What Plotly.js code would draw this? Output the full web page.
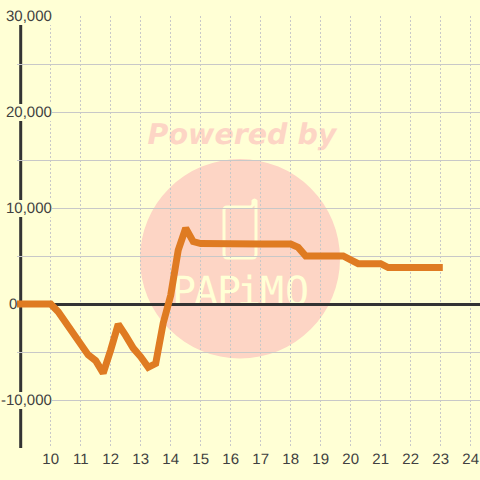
<!DOCTYPE html>
<html><head><meta charset="utf-8">
<script src="https://cdn.plot.ly/plotly-3.0.1.min.js"></script>
<style>html,body{margin:0;padding:0;background:#ffffd5}svg text{text-rendering:geometricPrecision}</style></head>
<body><div id="c" style="width:480px;height:480px"></div>
<script>
const hours = [8.877,9,9.5,10,10.25,10.5,10.75,11,11.25,11.5,11.75,12,12.25,12.5,12.75,13,13.25,13.5,13.75,14,14.25,14.5,14.75,15,15.5,16,17,18,18.25,18.5,19,19.5,19.75,20,20.25,20.5,21,21.25,21.5,22,22.5,23.07];
const values = [0,0,0,0,-800,-1900,-3100,-4200,-5300,-5900,-7200,-4800,-2100,-3300,-4600,-5500,-6600,-6200,-2000,900,5600,7900,6500,6300,6250,6250,6250,6250,5900,5000,5000,5000,5000,4600,4200,4200,4200,3800,3800,3800,3800,3800];
const xTicks = [10,11,12,13,14,15,16,17,18,19,20,21,22,23,24];
const yTickValues = [30000,20000,10000,-10000];
const yTickLabels = ['30,000','20,000','10,000','-10,000'];
const zeroLabel = '0';
const wmLetters = ['P','A','P','i','M','O'];
const wmCenters = [184,206,229,249,272,297];
const BG='#ffffd5', PINK='#fdd5c5', INK='#404040', GRID='#c8c8c8';
const L=17,T=16,W=463,H=432;
const px=v=>(v-L)/W, py=v=>(T+H-v)/H;
const P=(x,y)=>px(x).toFixed(4)+','+py(y).toFixed(4);
const phone='M '+P(227,207)+' L '+P(251,207)+' L '+P(253,205)+' L '+P(253,201)+' Q '+P(254.5,199)+' '+P(256,201)+' L '+P(256,254)+' Q '+P(256,258)+' '+P(252,258)+' L '+P(228,258)+' Q '+P(224,258)+' '+P(224,254)+' L '+P(224,210)+' Q '+P(224,207)+' '+P(227,207)+' Z';
const xStart=9-3.7/30;
const pxToX=v=>xStart+(v-L)/30;
const shapes=[
 {type:'circle',xref:'paper',yref:'paper',x0:px(140),x1:px(340),y0:py(358.5),y1:py(159),fillcolor:PINK,line:{width:0},layer:'below'},
 {type:'path',xref:'paper',yref:'paper',path:phone,line:{color:BG,width:3},fillcolor:'rgba(0,0,0,0)',layer:'below'},
 {type:'rect',xref:'paper',yref:'paper',x0:px(144),x1:px(340),y0:py(147),y1:py(117),line:{width:0},fillcolor:'rgba(0,0,0,0)',layer:'below',
  label:{text:'<b><i>Powered by</i></b>',textposition:'middle center',font:{family:'DejaVu Sans',size:28.5,color:PINK}}},
 {type:'rect',xref:'x',yref:'paper',x0:pxToX(16),x1:pxToX(19.3),y0:-0.01,y1:1.01,fillcolor:BG,line:{width:0},layer:'below'},
 {type:'rect',xref:'x',yref:'paper',x0:pxToX(19.2),x1:pxToX(22.2),y0:0,y1:1,fillcolor:'#333333',line:{width:0},layer:'below'}
];
wmLetters.forEach((ch,i)=>{const cx=wmCenters[i];shapes.push({type:'rect',xref:'paper',yref:'paper',x0:px(cx-12),x1:px(cx+12),y0:py(306),y1:py(270),line:{width:0},fillcolor:'rgba(0,0,0,0)',layer:'below',
  label:{text:ch,textposition:'middle center',font:{family:'DejaVu Sans Mono',size:40,color:BG}}});});
const annotations=yTickValues.map((v,i)=>({x:0,xref:'paper',xshift:-L+51.5,xanchor:'right',y:v,yref:'y',text:yTickLabels[i],showarrow:false,font:{family:'Liberation Sans',size:15,color:INK},bgcolor:BG,borderpad:0,borderwidth:0}));
annotations.push({x:0,xref:'paper',xshift:-L+16.5,xanchor:'right',y:0,yref:'y',text:zeroLabel,showarrow:false,font:{family:'Liberation Sans',size:15,color:INK},borderpad:0,borderwidth:0});
Plotly.newPlot('c',[{x:hours,y:values,type:'scatter',mode:'lines',line:{color:'#df7b22',width:7},hoverinfo:'skip'}],{
 width:480,height:480,paper_bgcolor:BG,plot_bgcolor:'rgba(0,0,0,0)',showlegend:false,
 margin:{l:L,r:0,t:T,b:480-T-H,pad:0},
 xaxis:{range:[xStart,xStart+W/30],tickmode:'array',tickvals:xTicks,ticktext:xTicks.map(String),ticks:'',showgrid:true,gridcolor:GRID,griddash:'2px,2px',gridwidth:1,zeroline:false,showline:false,tickfont:{family:'Liberation Sans',size:15,color:INK}},
 yaxis:{range:[-15000,30000],dtick:5000,tick0:0,showticklabels:false,ticks:'',showgrid:true,gridcolor:GRID,gridwidth:1,zeroline:true,zerolinecolor:'#333333',zerolinewidth:3,showline:false},
 shapes,annotations
},{displayModeBar:false,staticPlot:true});
</script></body></html>
